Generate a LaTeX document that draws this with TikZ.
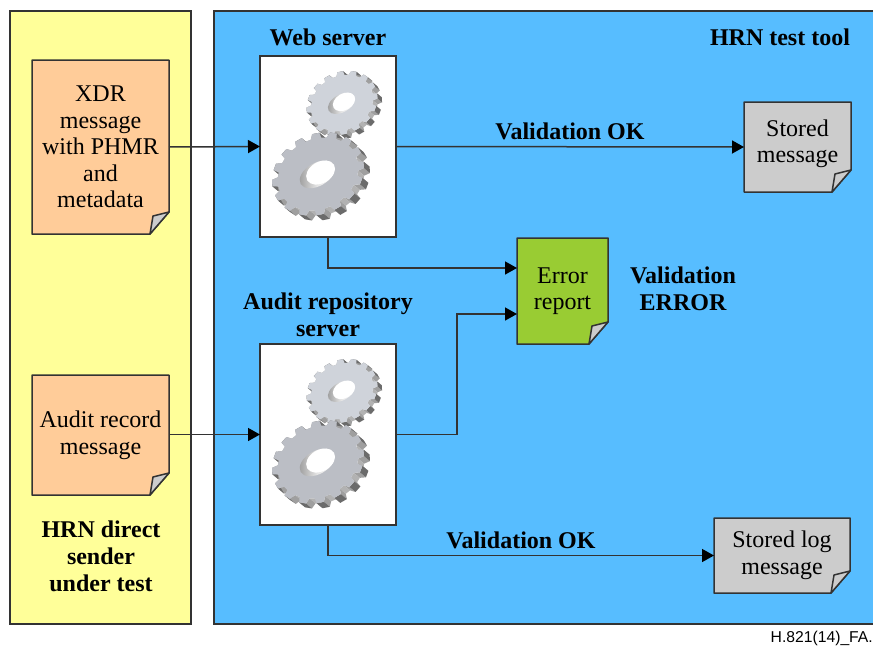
\documentclass[tikz,border=0pt]{standalone}
\usepackage{fontspec}
\setmainfont{Liberation Serif}
\setsansfont{Liberation Sans}
\usepackage{tikz}
\usetikzlibrary{arrows.meta,backgrounds}
\definecolor{panelyellow}{HTML}{FFFF99}
\definecolor{panelblue}{HTML}{57BDFF}
\definecolor{docpeach}{HTML}{FFCC99}
\definecolor{docgray}{HTML}{CCCCCC}
\definecolor{docgreen}{HTML}{99CC33}
\definecolor{linedark}{HTML}{333333}
\definecolor{gearlight}{HTML}{CFD3DA}
\definecolor{geardark}{HTML}{BBBEC5}
\tikzset{
  panel/.style={draw=linedark, line width=1.5pt, anchor=north west, inner sep=0pt, outer sep=0pt},
  serverbox/.style={draw=linedark, line width=1.5pt, fill=white, anchor=north west, inner sep=0pt, outer sep=0pt, minimum width=136pt, minimum height=181pt},
  docbox/.style={align=center, font=\fontsize{24}{26.6}\selectfont, inner sep=0pt, outer sep=0pt, anchor=north west},
  heading/.style={align=center, font=\fontsize{24}{27}\selectfont\bfseries},
  flow/.style={draw=linedark, line width=1.5pt, -{Triangle[length=12pt,width=13pt,color=black]}},
}
% page with a turned corner, behind the text of node #1
\newcommand{\docpage}[2]{
  \begin{pgfonlayer}{background}
    \draw[linedark, line width=1.5pt, fill=#2, line join=round] (#1.north west) -- (#1.north east) -- ([yshift=22pt]#1.south east) -- ([xshift=-19pt]#1.south east) -- (#1.south west) -- cycle;
    \draw[linedark, line width=1.5pt, fill=docgray, line join=round] ([xshift=-19pt]#1.south east) -- ([xshift=-16pt,yshift=18pt]#1.south east) -- ([yshift=22pt]#1.south east) -- cycle;
  \end{pgfonlayer}
}
% x, y, outer radius, face colour
\newcommand{\drawgear}[4]{
  \begin{scope}[shift={(#1,#2)}, rotate=30, yscale=.82, scale=#3/48]
    \foreach \k in {1,...,16} {
      \pgfmathsetmacro{\ga}{\k*22.5}
      \fill[gray!75] ({\ga-7.5}:42) -- ({\ga-4.5}:48) -- ([shift={(2.7,8.9)}]{\ga-4.5}:48) -- ([shift={(2.7,8.9)}]{\ga-7.5}:42) -- cycle;
      \fill[gray!75] ({\ga+7.5}:42) -- ({\ga+4.5}:48) -- ([shift={(2.7,8.9)}]{\ga+4.5}:48) -- ([shift={(2.7,8.9)}]{\ga+7.5}:42) -- cycle;
      \fill[gray!60] ({\ga+7.5}:42) -- ({\ga+15}:42) -- ([shift={(2.7,8.9)}]{\ga+15}:42) -- ([shift={(2.7,8.9)}]{\ga+7.5}:42) -- cycle;
      \fill[black!58] ({\ga-4.5}:48) -- ({\ga+4.5}:48) -- ([shift={(2.7,8.9)}]{\ga+4.5}:48) -- ([shift={(2.7,8.9)}]{\ga-4.5}:48) -- cycle;
    }
    \fill[#4] (0:42) \foreach \k in {1,...,16} { -- ({\k*22.5-7.5}:42) -- ({\k*22.5-4.5}:48) -- ({\k*22.5+4.5}:48) -- ({\k*22.5+7.5}:42) } -- cycle;
    \shade[left color=gray!80, right color=white, middle color=gray!20] (-1,0) ellipse (19 and 14);
    \fill[white] (3,0) ellipse (15.5 and 13);
  \end{scope}
}
\begin{document}
\begin{tikzpicture}[x=1pt,y=-1pt]
  \useasboundingbox (0,0) rectangle (873,646);
  % panels
  \begin{pgfonlayer}{background}
    \node (sender) [panel, fill=panelyellow, minimum width=181pt, minimum height=613pt] at (10,11) {};
    \node (tool) [panel, fill=panelblue, minimum width=662pt, minimum height=613pt] at (214,11) {};
  \end{pgfonlayer}
  % servers
  \node (webbox) [serverbox] at (260,56) {};
  \node (auditbox) [serverbox] at (260,344) {};
  \drawgear{342}{103}{37}{gearlight}
  \drawgear{318}{174}{48}{geardark}
  \drawgear{342}{391}{37}{gearlight}
  \drawgear{318}{462}{48}{geardark}
  % messages
  \node (xdr) [docbox, minimum width=137pt, minimum height=174pt] at (32,60) {XDR\\message\\with PHMR\\and\\metadata};
  \node (record) [docbox, minimum width=137pt, minimum height=120pt] at (32,375) {Audit record\\message};
  \node (stored) [docbox, minimum width=107pt, minimum height=90pt] at (744,102) {Stored\\message\\[-14.6pt]};
  \node (report) [docbox, minimum width=91pt, minimum height=106pt] at (517,238) {Error\\report};
  \node (storedlog) [docbox, minimum width=136pt, minimum height=75pt] at (714,518) {Stored log\\message};
  \docpage{xdr}{docpeach}
  \docpage{record}{docpeach}
  \docpage{stored}{docgray}
  \docpage{report}{docgreen}
  \docpage{storedlog}{docgray}
  % flows
  \coordinate (reportin) at (517,268);
  \coordinate (reportout) at (517,314);
  \coordinate (turn) at (457,434.5);
  \draw[flow] (xdr.east) -- (webbox.west);
  \draw[flow] (webbox.east) -- (stored.west);
  \draw[flow] (webbox.south) |- (reportin);
  \draw[flow] (record.east |- auditbox.east) -- (auditbox.west);
  \draw[flow] (auditbox.east) -- (turn) |- (reportout);
  \draw[flow] (auditbox.south) |- (storedlog.west);
  % labels
  \node (webtitle) [heading] at (328,37) {Web server};
  \node (tooltitle) [heading] at (780,37) {HRN test tool};
  \node (audittitle) [heading] at (328,315) {Audit repository\\server};
  \node (okupper) [heading] at (570,131) {Validation OK};
  \node (oklower) [heading] at (521,540) {Validation OK};
  \node (errlabel) [heading] at (683,289) {Validation\\ERROR};
  \node (sendertitle) [heading] at (101,556) {HRN direct\\sender\\under test};
  \node (figid) [anchor=east, inner sep=0pt, font=\fontsize{15.7}{18}\sffamily] at (873,638) {H.821(14)\_FA.};
\end{tikzpicture}
\end{document}
